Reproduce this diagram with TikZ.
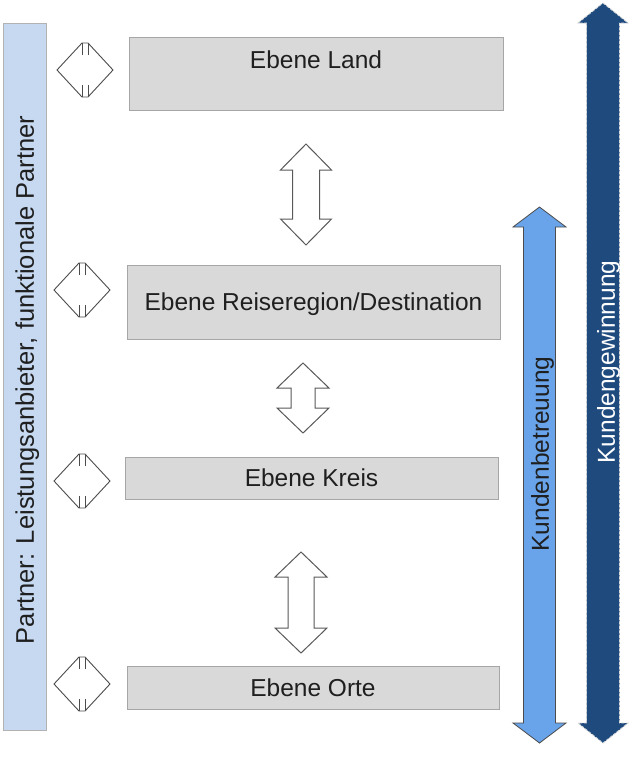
\documentclass[tikz,border=0pt]{standalone}
\usepackage{fontspec}
\setmainfont{Liberation Sans}
\begin{document}
\begin{tikzpicture}[x=1pt,y=-1pt,
  lvlbox/.style={draw=black!35, fill=black!15, line width=0.8pt, inner sep=0pt},
  lbl/.style={font=\fontsize{24.5}{28}\selectfont, text=black!88, text height=17.5pt, text depth=0pt, inner sep=0pt},
  udarrow/.style={draw=black!65, fill=white, line width=1pt, line join=miter},
  sidearrow/.style={draw=black!70, fill=white, line width=0.9pt, line join=miter},
  partnerbar/.style={draw=black!30, fill=partnerblue, line width=0.8pt, inner sep=0pt},
  betreuung/.style={draw=black!70, fill=lightblue, line width=0.8pt},
  gewinnung/.style={draw=black!15, dashed, dash pattern=on 3pt off 1.5pt, fill=darkblue, line width=0.8pt}
]
\definecolor{partnerblue}{HTML}{C6D9F1}
\definecolor{lightblue}{HTML}{69A4EA}
\definecolor{darkblue}{HTML}{1F4A7E}
\useasboundingbox (0,0) rectangle (629,774);
\fill[white] (0,0) rectangle (629,774);

% up-down arrow: cx, top, bottom, head half width, shaft half width, head length
\newcommand\UDArrow[7]{%
  \draw[#7] (#1,#2) -- (#1+#4,#2+#6) -- (#1+#5,#2+#6) -- (#1+#5,#3-#6)
    -- (#1+#4,#3-#6) -- (#1,#3) -- (#1-#4,#3-#6) -- (#1-#5,#3-#6)
    -- (#1-#5,#2+#6) -- (#1-#4,#2+#6) -- cycle;}
% small diamond arrow with notched ends: cx, cy
\newcommand\SideArrow[2]{%
  \draw[sidearrow] (#1-3,#2-27) -- (#1+3,#2-27) -- (#1+28,#2)
    -- (#1+3,#2+27) -- (#1-3,#2+27) -- (#1-28,#2) -- cycle;
  \draw[sidearrow] (#1-3,#2-27) -- (#1-3,#2-15) (#1+3,#2-15) -- (#1+3,#2-27);
  \draw[sidearrow] (#1-3,#2+27) -- (#1-3,#2+15) (#1+3,#2+15) -- (#1+3,#2+27);}

% left partner bar
\node[partnerbar, minimum width=43pt, minimum height=707pt] (partner) at (24.5,376.5) {};
\node[lbl, rotate=90, font=\fontsize{25.5}{29}\selectfont] (partnertext) at (25,380) {Partner: Leistungsanbieter, funktionale Partner};

% level boxes
\node[lvlbox, minimum width=374pt, minimum height=73pt] (land) at (316,73.5) {};
\node[lbl] (landtext) at (316,60) {Ebene Land};
\node[lvlbox, lbl, minimum width=373pt, minimum height=74pt] (reise) at (313.5,302) {Ebene Reiseregion/Destination};
\node[lvlbox, lbl, minimum width=373pt, minimum height=42pt] (kreis) at (311.5,478) {Ebene Kreis};
\node[lvlbox, lbl, minimum width=372pt, minimum height=43pt] (orte) at (313,687.5) {Ebene Orte};

% vertical double arrows between levels
\UDArrow{306}{144}{245}{25.5}{13.5}{26}{udarrow}
\UDArrow{303}{363}{433}{26}{12}{25}{udarrow}
\UDArrow{301}{552}{653}{26}{13}{25}{udarrow}

% small side arrows to partner bar
\SideArrow{85}{70}
\SideArrow{82}{290}
\SideArrow{82}{481}
\SideArrow{82}{684}

% right arrows
\UDArrow{539.5}{207}{743}{26.5}{16}{20}{betreuung}
\UDArrow{603}{3}{743}{25}{16.5}{20}{gewinnung}
\node[lbl, rotate=90] (betreuungtext) at (540,454) {Kundenbetreuung};
\node[lbl, rotate=90, text=white] (gewinnungtext) at (606,362) {Kundengewinnung};
\end{tikzpicture}
\end{document}
